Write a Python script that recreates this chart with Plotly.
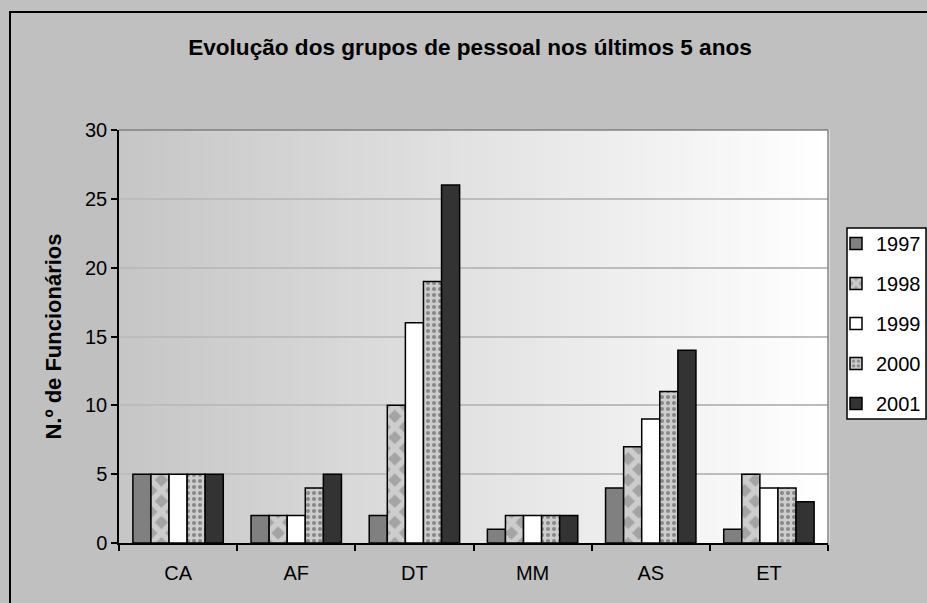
import plotly.graph_objects as go

categories = ["CA", "AF", "DT", "MM", "AS", "ET"]
years = ["1997", "1998", "1999", "2000", "2001"]
v1997 = [5, 2, 2, 1, 4, 1]
v1998 = [5, 2, 10, 2, 7, 5]
v1999 = [5, 2, 16, 2, 9, 4]
v2000 = [5, 4, 19, 2, 11, 4]
v2001 = [5, 5, 26, 2, 14, 3]
series = [v1997, v1998, v1999, v2000, v2001]

title_text = "Evolução dos grupos de pessoal nos últimos 5 anos"
ytitle_text = "N.º de Funcionários"

W, H = 927, 603
L, R, T, B = 119, 828, 130, 543

FONT = "Liberation Sans, Arial, sans-serif"

styles = [
    dict(color="#808080"),
    dict(color="#c0c0c0", pattern=dict(shape="x", fgcolor="#cdcdcd", bgcolor="#a4a4a4",
                                       size=15, solidity=0.6, fillmode="replace")),
    dict(color="#ffffff"),
    dict(color="#bdbdbd", pattern=dict(shape=".", fgcolor="#888888", bgcolor="#cdcdcd",
                                       size=6, solidity=0.35, fillmode="replace")),
    dict(color="#333333"),
]

fig = go.Figure()
for i, (yr, vals) in enumerate(zip(years, series)):
    fig.add_trace(go.Bar(
        x=categories, y=vals, name=yr, legendgroup=yr,
        marker=dict(**styles[i], line=dict(color="black", width=1.5)),
    ))

def px_x(p):
    return (p - L) / (R - L)

def px_y(p):
    return (B - p) / (B - T)

shapes = []
# gradient plot background
n = 90
for k in range(n):
    t = k / (n - 1)
    c = int(round(0xC6 + (0xFF - 0xC6) * t))
    shapes.append(dict(type="rect", xref="paper", yref="paper",
                       x0=k / n, x1=(k + 1) / n + 0.002, y0=0, y1=1,
                       fillcolor=f"rgb({c},{c},{c})", line=dict(width=0), layer="below"))
# top and right plot border (gray)
shapes.append(dict(type="line", xref="paper", yref="paper", x0=0, x1=1, y0=1, y1=1,
                   line=dict(color="#808080", width=1.5)))
shapes.append(dict(type="line", xref="paper", yref="paper", x0=1, x1=1, y0=0, y1=1,
                   line=dict(color="#808080", width=1.5)))
# outer chart border
shapes.append(dict(type="rect", xref="paper", yref="paper",
                   x0=px_x(10), x1=px_x(940), y0=px_y(620), y1=px_y(12),
                   line=dict(color="black", width=2), fillcolor="rgba(0,0,0,0)", layer="below"))
# legend box
shapes.append(dict(type="rect", xref="paper", yref="paper",
                   x0=px_x(847), x1=px_x(926), y0=px_y(419), y1=px_y(228),
                   line=dict(color="black", width=1.5), fillcolor="white", layer="above"))

fig.update_layout(
    width=W, height=H,
    margin=dict(l=L, r=W - R, t=T, b=H - B, autoexpand=False),
    paper_bgcolor="#c0c0c0",
    plot_bgcolor="rgba(0,0,0,0)",
    barmode="group", bargap=0.235, bargroupgap=0,
    font=dict(family=FONT, size=20, color="black"),
    title=dict(text=f"<b>{title_text}</b>", x=px_x(470), xref="paper", xanchor="center",
               y=1 - 47 / H, yref="container", yanchor="middle",
               font=dict(family=FONT, size=22.6, color="black")),
    legend=dict(x=px_x(836), y=px_y(224), xanchor="left", yanchor="top",
                bgcolor="rgba(0,0,0,0)", borderwidth=0,
                traceorder="grouped", tracegroupgap=11,
                font=dict(family=FONT, size=20), itemwidth=30),
    shapes=shapes,
    showlegend=True,
)

fig.update_xaxes(
    showgrid=False, showline=True, linecolor="black", linewidth=1.5,
    ticks="outside", tickson="boundaries", ticklen=6, tickwidth=1.5, tickcolor="black",
    tickfont=dict(family=FONT, size=20), ticklabelstandoff=11,
)
fig.update_yaxes(
    range=[0, 30], dtick=5, showgrid=True, gridcolor="#bcbcbc", gridwidth=1.5,
    showline=True, linecolor="black", linewidth=1.5,
    ticks="outside", ticklen=6, tickwidth=1.5, tickcolor="black",
    tickfont=dict(family=FONT, size=20), zeroline=False,
    title=dict(text=f"<b>{ytitle_text}</b>", font=dict(family=FONT, size=22), standoff=17),
)

fig.write_html("out.html", config={"displayModeBar": False},
               post_script="document.body.style.margin='0';document.body.style.overflow='hidden';")
